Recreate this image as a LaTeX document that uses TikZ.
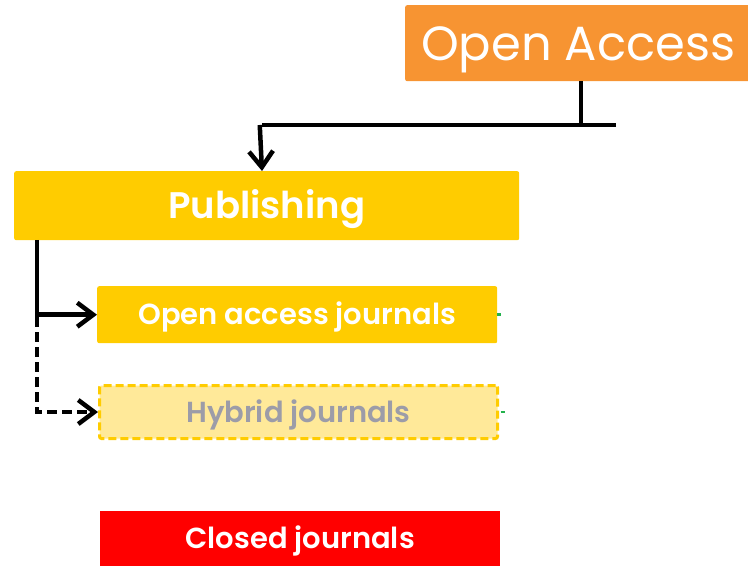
\documentclass[tikz,border=0pt]{standalone}
\usepackage{fontspec}
\setmainfont{Poppins}[BoldFont={Poppins SemiBold}]
\usetikzlibrary{arrows.meta}
\definecolor{oaorange}{HTML}{F79432}
\definecolor{pubyellow}{HTML}{FFCC00}
\definecolor{hyfill}{HTML}{FFE999}
\definecolor{hytext}{HTML}{9C9CA8}
\definecolor{closedred}{HTML}{FF0000}
\definecolor{stubgreen}{HTML}{22B24C}
\tikzset{
  box/.style={rectangle, rounded corners=2pt, inner sep=0pt, text=white, font=\bfseries, text depth=0pt},
  jbox/.style={box, minimum width=400pt, font=\bfseries\fontsize{29}{32}\selectfont, text height=20.3pt},
  conn/.style={line width=4.5pt, black},
  tip/.style={-{Straight Barb[length=16pt,width=24pt,line width=4.5pt]}},
}
\begin{document}
\begin{tikzpicture}[x=1pt,y=-1pt]
\useasboundingbox (0,0) rectangle (748,567);
% boxes
\node[box, fill=oaorange, anchor=north west, minimum width=360pt, minimum height=76pt] (oa) at (405,5) {};
\node[text=white, anchor=base west, font=\fontsize{48}{52}\selectfont, inner sep=0pt] (oatext) at (421,61) {Open Access};
\node[box, fill=pubyellow, anchor=north west, minimum width=505pt, minimum height=69pt, font=\bfseries\fontsize{37}{40}\selectfont, text height=25.9pt] (pub) at (14,171) {Publishing};
\node[jbox, fill=pubyellow, anchor=north west, minimum height=57pt] (oaj) at (97,286) {Open access journals};
\node[jbox, fill=hyfill, draw=pubyellow, dashed, dash pattern=on 8pt off 4pt, line width=3pt, text=hytext, anchor=north west, minimum width=398pt, minimum height=53pt] (hyb) at (98,384) {Hybrid journals};
\node[jbox, fill=closedred, rounded corners=0pt, anchor=north west, minimum height=55pt] (cl) at (100,511) {Closed journals};
% connectors
\coordinate (j1) at (581,125);
\coordinate (hr) at (616,125);
\coordinate (hl) at (262,125);
\draw[conn] (oa.south -| j1) -- (j1);
\draw[conn] (hr) -- (hl);
\draw[conn, tip] ([xshift=-2.25pt]hl) -- (hl |- pub.north);
\coordinate (s) at (37,240);
\draw[conn, tip] (s) |- (oaj.west);
\draw[conn, tip, dashed, dash pattern=on 10pt off 5pt] (37,317) |- (hyb.west);
% green stubs
\draw[stubgreen, line width=2.5pt] (oaj.east) -- ++(4,0);
\draw[stubgreen, line width=2.5pt] (hyb.east) ++(1.5,0) -- ++(4,0);
\end{tikzpicture}
\end{document}
